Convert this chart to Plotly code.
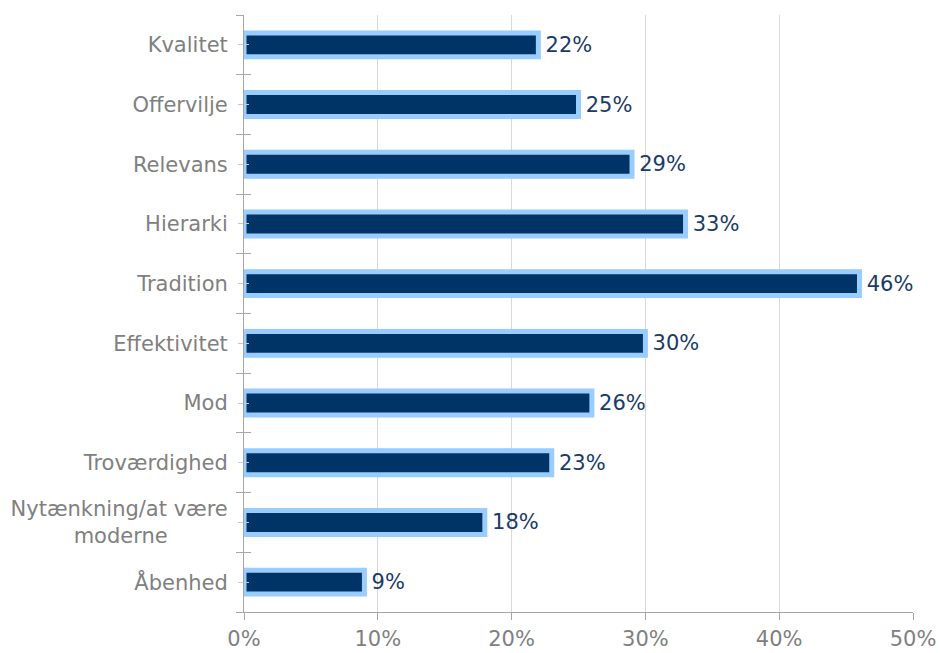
import plotly.graph_objects as go

# Categories listed top to bottom, with their shares
categories = ["Kvalitet", "Offervilje", "Relevans", "Hierarki", "Tradition",
              "Effektivitet", "Mod", "Troværdighed",
              "Nytænkning/at være<br>moderne" + "\u00a0" * 9, "Åbenhed"]
values = [0.22, 0.25, 0.29, 0.33, 0.46, 0.30, 0.26, 0.23, 0.18, 0.09]
x_ticks = [0, 0.1, 0.2, 0.3, 0.4, 0.5]
x_tick_labels = ["0%", "10%", "20%", "30%", "40%", "50%"]

# plot bottom-up so the first category sits at the top
cats_plot = categories[::-1]
vals_plot = values[::-1]
labels_plot = ["\u2009" + f"{round(v * 100)}%" for v in vals_plot]
n = len(cats_plot)

FONT = "DejaVu Sans"
AXIS_COL = "#a6a6a6"
GRID_COL = "#d9d9d9"
LABEL_COL = "#808080"
DARK = "#003366"
LIGHT = "#99ccff"
TEXT_COL = "#1a3a68"

fig = go.Figure()
fig.add_trace(go.Bar(
    x=vals_plot, y=cats_plot, orientation="h",
    width=0.40,
    marker=dict(color=DARK, line=dict(color=LIGHT, width=5)),
    text=labels_plot, textposition="outside",
    textfont=dict(family=FONT, size=21, color=TEXT_COL),
    constraintext="none", cliponaxis=False,
    hoverinfo="skip", showlegend=False,
))

# helper traces so the overlay tick axes get drawn
for ax in ["y2", "y3"]:
    fig.add_trace(go.Scatter(x=[0], y=[0], mode="none", yaxis=ax,
                             showlegend=False, hoverinfo="skip"))

boundaries = [i - 0.5 for i in range(n + 1)]
centers = list(range(n))

fig.update_layout(
    width=941, height=653,
    margin=dict(l=244, r=28, t=15, b=41),
    paper_bgcolor="white", plot_bgcolor="white",
    bargap=0.6,
    xaxis=dict(
        range=[0, 0.5], tickvals=x_ticks, ticktext=x_tick_labels,
        showgrid=True, gridcolor=GRID_COL, gridwidth=1,
        zeroline=False, showline=True, linecolor=AXIS_COL, linewidth=1,
        ticks="outside", ticklen=7, tickcolor=AXIS_COL,
        tickfont=dict(family=FONT, size=21, color=LABEL_COL),
        ticklabelstandoff=1, automargin=False, fixedrange=True,
    ),
    yaxis=dict(
        type="category", categoryorder="array", categoryarray=cats_plot,
        range=[-0.5, n - 0.5],
        showline=True, linecolor=AXIS_COL, linewidth=1,
        ticks="outside", tickson="boundaries", ticklen=7, tickcolor=AXIS_COL,
        tickfont=dict(family=FONT, size=21, color=LABEL_COL),
        ticklabelstandoff=11, showgrid=False, automargin=False, fixedrange=True,
    ),
    yaxis2=dict(
        overlaying="y", side="left", anchor="x", range=[-0.5, n - 0.5],
        tickvals=boundaries, ticks="inside", ticklen=7, tickcolor=AXIS_COL,
        showticklabels=False, showgrid=False, zeroline=False, showline=False,
        minor=dict(tickvals=centers, ticks="inside", ticklen=5,
                   tickcolor="#c8c8c8", showgrid=False),
        fixedrange=True,
    ),
    yaxis3=dict(
        overlaying="y", side="left", anchor="x", range=[-0.5, n - 0.5],
        tickvals=centers, ticks="outside", ticklen=5, tickcolor="#c8c8c8",
        showticklabels=False, showgrid=False, zeroline=False, showline=False,
        fixedrange=True,
    ),
)

fig.write_html("out.html")
